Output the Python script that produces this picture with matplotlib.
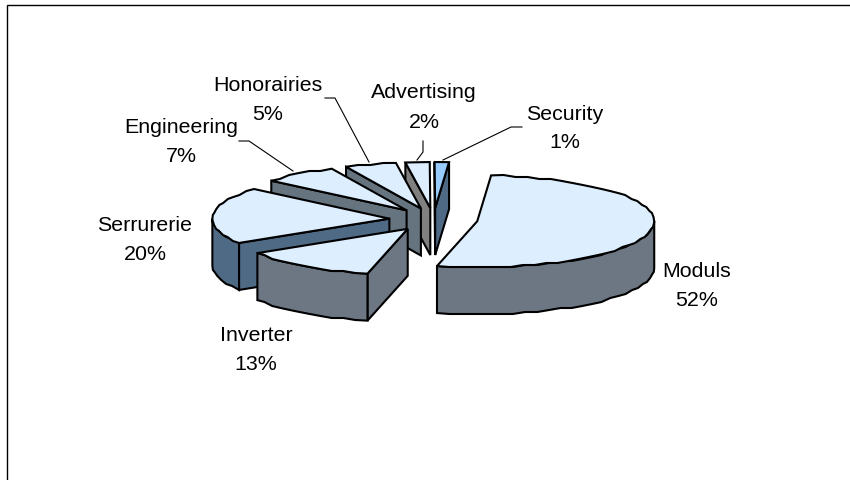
import numpy as np
import matplotlib
matplotlib.use("Agg")
import matplotlib.pyplot as plt
from matplotlib.patches import Polygon

plt.rcParams["font.family"] = ["Liberation Sans", "DejaVu Sans"]

categories = ["Moduls", "Inverter", "Serrurerie", "Engineering", "Honorairies", "Advertising", "Security"]
shares = [52.4, 12.5, 20.0, 6.9, 4.7, 2.2, 1.3]
percent_labels = ["52%", "13%", "20%", "7%", "5%", "2%", "1%"]
top_colors = ["#DDEEFF", "#DDEEFF", "#DDEEFF", "#DDEEFF", "#DDEEFF", "#DDEEFF", "#99CCFF"]
side_colors = ["#6D7784", "#6D7784", "#4F6A85", "#66747F", "#66747F", "#808080", "#4F6A85"]
label_pos = [(697, 286.5), (256, 350.5), (145, 240.5), (181, 142), (268, 100), (424, 107.5), (565, 128.5)]

# leader lines, in pixels
leaders = {
    "Engineering": [(239, 142), (249, 142), (293, 172)],
    "Honorairies": [(325, 99), (335, 99), (369, 163)],
    "Advertising": [(423, 142), (423, 153), (417, 161)],
    "Security": [(522, 128), (511, 128), (443, 161)],
}

cx, cy = 433.5, 220.5
rx, ry = 177, 46
depth = 47
explode = 0.25
start_angle = 4.5


def arc(c, t0, t1):
    # clockwise from the top, snapped a bit so the edge is as rough as the original
    n = max(2, int((t1 - t0) / 4) + 1)
    t = np.radians(np.linspace(t0, t1, n))
    x = c[0] + rx * np.sin(t)
    y = c[1] - ry * np.cos(t)
    y[1:-1] = np.round(y[1:-1] / 2) * 2
    return np.column_stack([x, y])


def face(ax, pts, color, z):
    ax.add_patch(Polygon(pts, closed=True, facecolor=color, edgecolor="black",
                         linewidth=1.5, joinstyle="miter", zorder=z))


fig = plt.figure(figsize=(8.5, 4.81), dpi=100)
ax = fig.add_axes([0, 0, 1, 1])
ax.set_xlim(0, 850)
ax.set_ylim(481, 0)
ax.axis("off")

# frame is only open on the right and the bottom
ax.plot([7, 7, 850], [481, 6, 6], color="black", lw=1.0, solid_joinstyle="miter")

edges = start_angle + np.cumsum([0] + shares) * 3.6

# back slices first so the front ones cover them
order = [6, 5, 4, 3, 2, 1, 0]
for z, i in enumerate(order):
    t0, t1 = edges[i], edges[i + 1]
    mid = np.radians((t0 + t1) / 2)
    apex = np.array([cx + explode * rx * np.sin(mid), cy - explode * ry * np.cos(mid)])
    down = np.array([0, depth])
    outer = arc(apex, t0, t1)
    zz = 3 + z * 0.1
    # radial walls
    if np.sin(np.radians(t0)) < 1e-9:
        p = outer[0]
        face(ax, [apex, p, p + down, apex + down], side_colors[i], zz)
    if np.sin(np.radians(t1)) > 1e-9:
        p = outer[-1]
        face(ax, [apex, p, p + down, apex + down], side_colors[i], zz)
    # outer wall, only the front half shows
    a0, a1 = max(t0, 90), min(t1, 270)
    if a1 > a0:
        rim = arc(apex, a0, a1)
        face(ax, np.vstack([rim, rim[::-1] + down]), side_colors[i], zz + 0.01)
    face(ax, np.vstack([[apex], outer]), top_colors[i], zz + 0.02)

for name, pct, pos in zip(categories, percent_labels, label_pos):
    ax.text(pos[0], pos[1] - 14.5, name, fontsize=15.4, ha="center", va="center", color="black", zorder=10)
    ax.text(pos[0], pos[1] + 14.5, pct, fontsize=15.4, ha="center", va="center", color="black", zorder=10)

for pts in leaders.values():
    xs, ys = zip(*pts)
    ax.plot(xs, ys, color="black", lw=0.8, zorder=9)

fig.savefig("out.png", dpi=100, facecolor="white")
